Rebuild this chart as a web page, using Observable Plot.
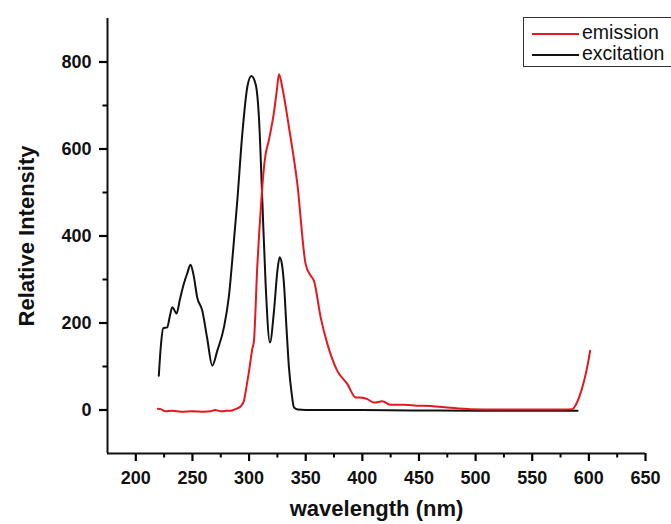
<!DOCTYPE html>
<html>
<head>
<meta charset="utf-8">
<script src="https://cdn.jsdelivr.net/npm/d3@7"></script>
<script src="https://cdn.jsdelivr.net/npm/@observablehq/plot@0.6"></script>
<style>
  body { margin: 0; background: #fff; }
  #wrap { position: relative; width: 671px; height: 524px; overflow: hidden; }
  #legend { position: absolute; left: 523px; top: 17px; width: 200px; height: 48px;
            border: 1.5px solid #333; background: #fff;
            font-family: "Liberation Sans", Arial, sans-serif; font-size: 19.5px; color: #111; }
  #legend .row { position: absolute; left: 0; display: flex; align-items: center; }
  #legend svg { display: block; }
</style>
</head>
<body>
<div id="wrap"></div>
<script>
// ---- data ----
const excitationNm = [220.3, 222.2, 224.2, 227.7, 230, 232.2, 236, 239, 242.4, 245.5, 248.3, 251, 254.2, 258.7, 263, 267.5, 271.9, 277.8, 282.2, 286, 289.6, 294, 298.4, 302, 305.8, 308.7, 311.7, 314.6, 318.4, 322, 325, 327, 329, 330.8, 333, 335.2, 337.5, 339.6, 343, 350, 400, 450, 500, 550, 590];
const excitationVal = [79, 150, 188, 190, 215, 236, 222, 255, 290, 315, 334, 310, 259, 228, 165, 102, 136, 190, 262, 370, 481, 634, 742, 768, 749, 673, 481, 290, 155, 228, 320, 351, 335, 290, 190, 98, 40, 6, 1, 0, 0, -1, -2, -2, -2];

const emissionNm = [219.5, 222, 226, 232, 240, 250, 260, 266, 270, 275, 280, 285, 289, 292.5, 295.4, 297.8, 300, 302.8, 304.3, 307.2, 309, 310.8, 312.5, 314.6, 317, 319, 322, 324.5, 326.4, 329.3, 335.2, 342.6, 349.9, 354.3, 357.3, 363.2, 369.1, 377.9, 386.7, 394, 400, 404.4, 410.3, 417.7, 425, 436.8, 448, 460.4, 478, 495.7, 519.3, 548.8, 578, 585.5, 588.5, 591.4, 595.8, 599, 601.1];
const emissionVal = [3, 2, -3, -2, -4, -3, -4, -3, 0, -3, -2, -1, 3, 8, 21, 55, 90, 140, 159, 328, 410, 481, 540, 588, 615, 640, 685, 735, 772, 742, 650, 520, 336, 309, 297, 213, 152, 90, 60, 29, 28, 25, 17, 20, 12, 12, 10, 9, 5, 2, 1, 1, 1, 2, 12, 29, 67, 105, 136];

const xDomain = [175, 650];
const yDomain = [-100, 900];
const xTicks = [200, 250, 300, 350, 400, 450, 500, 550, 600, 650];
const xMinorTicks = [225, 275, 325, 375, 425, 475, 525, 575, 625];
const yTicks = [0, 200, 400, 600, 800];
const yMinorTicks = [100, 300, 500, 700];
const xLabel = "wavelength (nm)";
const yLabel = "Relative Intensity";
const seriesNames = ["emission", "excitation"];
const seriesColors = ["#e5171f", "#111111"];

const excitation = excitationNm.map((nm, i) => ({nm, val: excitationVal[i]}));
const emission = emissionNm.map((nm, i) => ({nm, val: emissionVal[i]}));

const font = "'Liberation Sans', Arial, sans-serif";

const W = 671, H = 524, mL = 107, mR = 26, mT = 18, mB = 71;
const plotW = W - mL - mR, plotH = H - mT - mB;
const majorLen = 8, minorLen = 4.5;

// tick marks: frame-spanning ticks inset down to a short stub just outside the frame
const xTickMark = (values, len, w) => Plot.tickX(values, {x: d => d, stroke: "#000", strokeWidth: w, insetTop: plotH - len, dy: len});
const yTickMark = (values, len, w) => Plot.tickY(values, {y: d => d, stroke: "#000", strokeWidth: w, insetRight: plotW - len, dx: -len});

const chart = Plot.plot({
  width: W,
  height: H,
  marginLeft: mL,
  marginRight: mR,
  marginTop: mT,
  marginBottom: mB,
  x: {domain: xDomain},
  y: {domain: yDomain},
  style: {fontFamily: font, background: "#fff", color: "#111", overflow: "visible"},
  marks: [
    // tick labels
    Plot.axisX({ticks: xTicks, tickSize: 0, tickPadding: 18, fontSize: 18, fontWeight: "bold", fill: "#111", label: null, tickFormat: d => String(d)}),
    Plot.axisY({ticks: yTicks, tickSize: 0, tickPadding: 16, fontSize: 18, fontWeight: "bold", fill: "#111", label: null, tickFormat: d => String(d)}),
    // tick marks
    xTickMark(xTicks, majorLen, 2.2),
    xTickMark(xMinorTicks, minorLen, 2),
    yTickMark(yTicks, majorLen, 2.2),
    yTickMark(yMinorTicks, minorLen, 2),
    // axis lines
    Plot.ruleX([xDomain[0]], {strokeWidth: 2, stroke: "#111"}),
    Plot.ruleY([yDomain[0]], {strokeWidth: 2, stroke: "#111"}),
    // axis titles
    Plot.text([xLabel], {frameAnchor: "bottom", lineAnchor: "bottom", textAnchor: "middle", dy: 62, fontSize: 22, fontWeight: "bold", fill: "#111", style: "letter-spacing:0.8px"}),
    Plot.text([yLabel], {frameAnchor: "left", rotate: -90, lineAnchor: "bottom", textAnchor: "middle", dx: -74, fontSize: 22, fontWeight: "bold", fill: "#111", style: "letter-spacing:1.5px"}),
    // series
    Plot.line(excitation, {x: "nm", y: "val", stroke: seriesColors[1], strokeWidth: 2, curve: "monotone-x"}),
    Plot.line(emission, {x: "nm", y: "val", stroke: seriesColors[0], strokeWidth: 2, curve: "monotone-x"})
  ]
});

const wrap = document.getElementById("wrap");
wrap.appendChild(chart);

// legend overlay (inside the plot area, top-right, clipped by the page edge)
const legend = document.createElement("div");
legend.id = "legend";
seriesNames.forEach((name, i) => {
  const row = document.createElement("div");
  row.className = "row";
  row.style.top = (i === 0 ? 3 : 24) + "px";
  row.innerHTML = `<svg width="58" height="20"><line x1="8" x2="55" y1="11" y2="11" stroke="${seriesColors[i]}" stroke-width="2"/></svg><span>${name}</span>`;
  legend.appendChild(row);
});
wrap.appendChild(legend);
</script>
</body>
</html>
